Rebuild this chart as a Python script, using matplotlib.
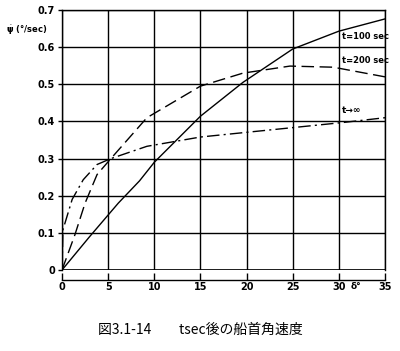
import matplotlib
matplotlib.use("Agg")
import matplotlib.pyplot as plt

plt.rcParams['font.family'] = ['DejaVu Sans', 'Noto Sans CJK JP']

# Data
t100_x = [0, 3.0, 6.1, 8.4, 10, 15, 19.6, 25, 30, 35]
t100_y = [0, 0.09, 0.18, 0.24, 0.29, 0.414, 0.505, 0.595, 0.643, 0.676]
t200_x = [0, 1.4, 2.5, 3.8, 5.3, 9.2, 15, 19.6, 24.7, 29.4, 35]
t200_y = [0, 0.095, 0.18, 0.257, 0.3, 0.41, 0.495, 0.53, 0.549, 0.546, 0.52]
tinf_x = [0, 0.1, 1.1, 2.3, 3.8, 5.3, 9.2, 15, 30.4, 35]
tinf_y = [0, 0.108, 0.19, 0.243, 0.284, 0.3, 0.333, 0.358, 0.397, 0.41]

x_ticks = [0, 5, 10, 15, 20, 25, 30, 35]
y_ticks = [0, 0.1, 0.2, 0.3, 0.4, 0.5, 0.6, 0.7]
y_labels = ['0', '0.1', '0.2', '0.3', '0.4', '0.5', '0.6', '0.7']
curve_labels = ['t=100 sec', 't=200 sec', 't→∞']
caption = '図3.1-14　　tsec後の船首角速度'

fig = plt.figure(figsize=(4.0, 3.51), dpi=100)
ax = fig.add_axes([0.155, 0.2308, 0.8075, 0.7407])
ax.set_xlim(0, 35)
ax.set_ylim(0, 0.7)

ax.plot(t100_x, t100_y, color='black', lw=1.0, ls='-')
ax.plot(t200_x, t200_y, color='black', lw=1.0, dashes=(9, 4))
ax.plot(tinf_x, tinf_y, color='black', lw=1.0, dashes=(9, 3, 1.5, 3))

ax.set_xticks(x_ticks)
ax.set_yticks(y_ticks)
ax.set_yticklabels(y_labels)
ax.grid(True, color='black', lw=1.0)
for s in ['top', 'right', 'left']:
    ax.spines[s].set_linewidth(1.0)
ax.spines['bottom'].set_position(('outward', 7))
ax.spines['bottom'].set_linewidth(1.0)
ax.axhline(0, color='black', lw=1.2)
ax.tick_params(axis='x', direction='in', length=5, width=1, labelsize=7, pad=2)
ax.tick_params(axis='y', direction='out', length=3, width=1, labelsize=7, pad=2)
for lab in ax.get_xticklabels() + ax.get_yticklabels():
    lab.set_fontweight('bold')

# curve labels
ax.text(30.3, 0.628, curve_labels[0], fontsize=6, fontweight='bold', va='center')
ax.text(30.3, 0.563, curve_labels[1], fontsize=6, fontweight='bold', va='center')
ax.text(30.3, 0.43, curve_labels[2], fontsize=6.5, fontweight='bold', va='center')

# delta label on x axis
ax.text(31.9, -0.032, 'δ°', fontsize=6.5, fontweight='bold', ha='center', va='top',
        transform=ax.transData, clip_on=False)

# y axis label
fig.text(0.015, 0.915, r'$\dot{\mathbf{\psi}}$ (°/sec)', fontsize=6, fontweight='bold',
         ha='left', va='center')

fig.text(0.5, 0.06, caption, fontsize=10, ha='center', va='center',
         family=['Noto Sans CJK JP', 'DejaVu Sans'])

fig.savefig('out.png', dpi=100)
